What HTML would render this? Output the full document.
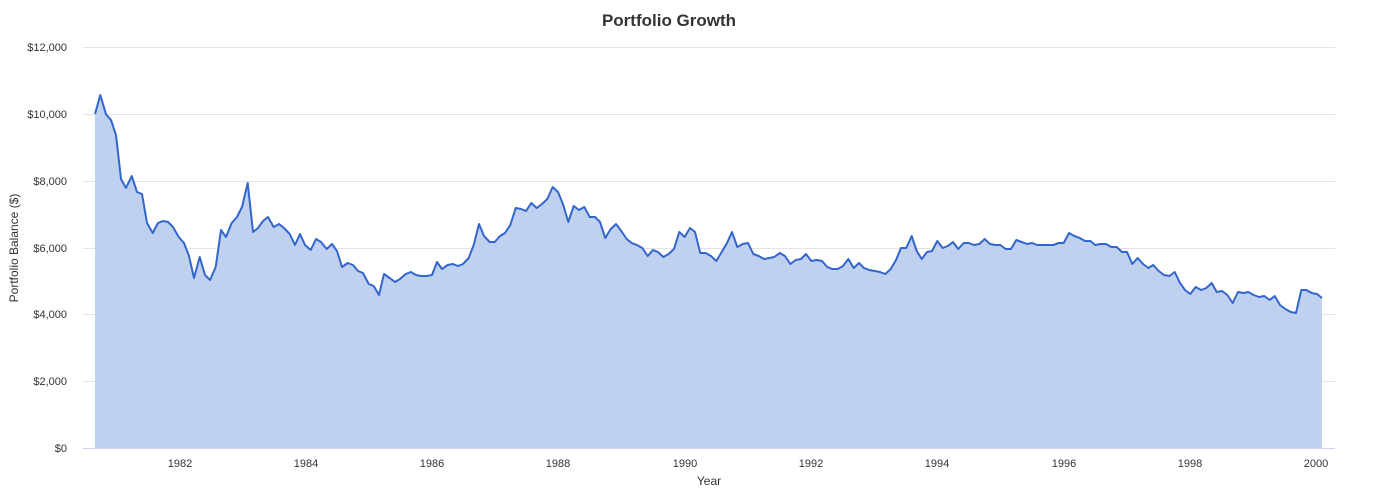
<!DOCTYPE html>
<html><head><meta charset="utf-8"><style>
body{margin:0;background:#fff;}
svg{display:block;font-family:"Liberation Sans",Arial,sans-serif;}
</style></head><body>
<svg width="1383" height="496" viewBox="0 0 1383 496" xmlns="http://www.w3.org/2000/svg">
<rect width="1383" height="496" fill="#fff"/>
<text x="669" y="26" text-anchor="middle" font-size="17" font-weight="bold" fill="#333">Portfolio Growth</text>
<g stroke="#e3e3e3" stroke-width="1">
<line x1="83" x2="1335" y1="47.5" y2="47.5"/>
<line x1="83" x2="1335" y1="114.5" y2="114.5"/>
<line x1="83" x2="1335" y1="181.5" y2="181.5"/>
<line x1="83" x2="1335" y1="248.5" y2="248.5"/>
<line x1="83" x2="1335" y1="314.5" y2="314.5"/>
<line x1="83" x2="1335" y1="381.5" y2="381.5"/>
</g>
<g font-size="11" fill="#333" text-anchor="end">
<text x="67" y="51">$12,000</text>
<text x="67" y="118">$10,000</text>
<text x="67" y="185">$8,000</text>
<text x="67" y="252">$6,000</text>
<text x="67" y="318">$4,000</text>
<text x="67" y="385">$2,000</text>
<text x="67" y="452">$0</text>
</g>
<polygon fill="#c0d1ef" points="95,448 95,114 100.3,95 106,114.3 111,120 116,135 121,179 126,188 131.7,176 137,192 142,194 147,223 152.7,233 158,223 163,221 168,222 173,227 178.7,237 184,243 189,256 194,278 199.7,257 205,275 210,280 215.7,267 221,230 226,237 231.7,223 237,217 242,207 247.7,183 253,232 258,228 263,221 268,217 273.7,227 279,224 284,228 289.7,234 295,245 300,234 305,245 310.7,250 316,239 321,242 326.7,249 332,244 337,251 342,267 347.7,263 353,265 358,271 363,273 368.7,284 373.7,286 379,295 384,274 389.7,278 395,282 400,279 405.7,274 410.7,272 416,275 421,276 426.7,276 432,275 437,262 442,269 447.7,265 453,264 458,266 463,264 468.7,258 473.7,245 479,224 484,236 489.7,242 494.7,242 500,236 505,233 510.3,225 515.7,208 521,209 526,211 531.3,203 536.7,208 542,204 547.3,199 552.7,187 558,192 563.3,205 568.3,222 573.7,206 579,210 584.3,207 589.7,217 595,217 600,222 605.3,238 610.7,229 616,224 621.3,231 626.7,239 631.7,243 637,245 642.3,248 647.7,256 653,250 658,252 663.3,257 668.7,254 674,249 679.3,232 684.7,237 690,228 695,232 700.3,253 705.7,253 711,256 716.3,261 721.7,252 727,243 732,232 737.3,247 742.7,244 748,243 753.3,254 758.7,256 764,259 769.3,258 774.3,257 779.7,253 785,256 790.3,264 795.7,260 801,259 806,254 811.3,261 816.7,260 822,261 827.3,267 832.3,269 837.7,269 843,266 848.3,259 853.7,268 859,263 864,268 869.3,270 874.7,271 880,272 885.3,274 890.7,269 896,260 901,248 906.3,248 911.7,236 916.7,251 921.7,259 927,252 932,251 937.3,241 942.7,248 947.7,246 953,242 958.3,249 963.7,243 968.7,243 974,245 979.3,244 984.7,239 990,244 995.3,245 1000.3,245 1005.7,249 1011,249 1016.3,240 1021.7,242 1027,244 1032,243 1037.3,245 1042.7,245 1048,245 1053.3,245 1058.7,243 1063.7,243 1069,233 1074.3,236 1079.7,238 1085,241 1090.3,241 1095.3,245 1100.7,244 1106,244 1111.3,247 1116.7,247 1122,252 1127,252 1132.3,264 1137.7,258 1143,264 1148.3,268 1153.3,265 1158.7,271 1164,275 1169.3,276 1174.7,272 1180,283 1185,290 1190.3,294 1195.7,287 1201,290 1206.3,288 1211.7,283 1216.7,292 1222,291 1227.3,295 1232.7,303 1238,292 1243.3,293 1248.3,292 1253.7,295 1259,297 1264.3,296 1269.7,300 1274.7,296 1280,305 1285.3,309 1290.7,312 1296,313 1301.3,290 1306.3,290 1311.7,293 1317,294 1322,298 1322,448"/>
<polyline fill="none" stroke="#3366cc" stroke-width="2" stroke-linejoin="round" points="95,114 100.3,95 106,114.3 111,120 116,135 121,179 126,188 131.7,176 137,192 142,194 147,223 152.7,233 158,223 163,221 168,222 173,227 178.7,237 184,243 189,256 194,278 199.7,257 205,275 210,280 215.7,267 221,230 226,237 231.7,223 237,217 242,207 247.7,183 253,232 258,228 263,221 268,217 273.7,227 279,224 284,228 289.7,234 295,245 300,234 305,245 310.7,250 316,239 321,242 326.7,249 332,244 337,251 342,267 347.7,263 353,265 358,271 363,273 368.7,284 373.7,286 379,295 384,274 389.7,278 395,282 400,279 405.7,274 410.7,272 416,275 421,276 426.7,276 432,275 437,262 442,269 447.7,265 453,264 458,266 463,264 468.7,258 473.7,245 479,224 484,236 489.7,242 494.7,242 500,236 505,233 510.3,225 515.7,208 521,209 526,211 531.3,203 536.7,208 542,204 547.3,199 552.7,187 558,192 563.3,205 568.3,222 573.7,206 579,210 584.3,207 589.7,217 595,217 600,222 605.3,238 610.7,229 616,224 621.3,231 626.7,239 631.7,243 637,245 642.3,248 647.7,256 653,250 658,252 663.3,257 668.7,254 674,249 679.3,232 684.7,237 690,228 695,232 700.3,253 705.7,253 711,256 716.3,261 721.7,252 727,243 732,232 737.3,247 742.7,244 748,243 753.3,254 758.7,256 764,259 769.3,258 774.3,257 779.7,253 785,256 790.3,264 795.7,260 801,259 806,254 811.3,261 816.7,260 822,261 827.3,267 832.3,269 837.7,269 843,266 848.3,259 853.7,268 859,263 864,268 869.3,270 874.7,271 880,272 885.3,274 890.7,269 896,260 901,248 906.3,248 911.7,236 916.7,251 921.7,259 927,252 932,251 937.3,241 942.7,248 947.7,246 953,242 958.3,249 963.7,243 968.7,243 974,245 979.3,244 984.7,239 990,244 995.3,245 1000.3,245 1005.7,249 1011,249 1016.3,240 1021.7,242 1027,244 1032,243 1037.3,245 1042.7,245 1048,245 1053.3,245 1058.7,243 1063.7,243 1069,233 1074.3,236 1079.7,238 1085,241 1090.3,241 1095.3,245 1100.7,244 1106,244 1111.3,247 1116.7,247 1122,252 1127,252 1132.3,264 1137.7,258 1143,264 1148.3,268 1153.3,265 1158.7,271 1164,275 1169.3,276 1174.7,272 1180,283 1185,290 1190.3,294 1195.7,287 1201,290 1206.3,288 1211.7,283 1216.7,292 1222,291 1227.3,295 1232.7,303 1238,292 1243.3,293 1248.3,292 1253.7,295 1259,297 1264.3,296 1269.7,300 1274.7,296 1280,305 1285.3,309 1290.7,312 1296,313 1301.3,290 1306.3,290 1311.7,293 1317,294 1322,298"/>
<line x1="83" x2="1335" y1="448.5" y2="448.5" stroke="#ccd6eb" stroke-width="1"/>
<g font-size="11" fill="#333" text-anchor="middle">
<text x="180" y="467">1982</text>
<text x="306" y="467">1984</text>
<text x="432" y="467">1986</text>
<text x="558" y="467">1988</text>
<text x="685" y="467">1990</text>
<text x="811" y="467">1992</text>
<text x="937" y="467">1994</text>
<text x="1064" y="467">1996</text>
<text x="1190" y="467">1998</text>
<text x="1316" y="467">2000</text>
</g>
<text x="709" y="485" text-anchor="middle" font-size="12" fill="#333">Year</text>
<text transform="translate(18,248) rotate(-90)" text-anchor="middle" font-size="12" fill="#333">Portfolio Balance ($)</text>
</svg>
</body></html>
